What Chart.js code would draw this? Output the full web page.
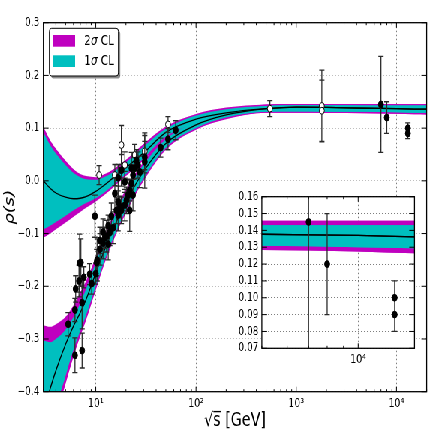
<!DOCTYPE html>
<html>
<head>
<meta charset="utf-8">
<script src="https://cdn.jsdelivr.net/npm/chart.js@4.4.0/dist/chart.umd.min.js"></script>
<style>
html, body {margin: 0; padding: 0; background: #fff; overflow: hidden}
/* the reference figure was squeezed horizontally, so draw wide and squeeze */
#wrap {position: relative; width: 581px; height: 436px; transform: scale(0.7504, 1); transform-origin: 0 0}
#main {position: absolute; left: 0; top: 0}
#inset {position: absolute; left: 300px; top: 185px}
</style>
</head>
<body>
<div id="wrap">
  <canvas id="main" width="581" height="436"></canvas>
  <canvas id="inset" width="266" height="185"></canvas>
</div>
<script>
const bandX = [3, 3.5, 4, 5, 6, 7, 8, 10, 12, 15, 20, 30, 50, 100, 200, 500, 1000, 2000, 5000, 10000, 15000, 20000]

// upper fit (through open points)
const a2Hi = [0.1025, 0.077, 0.061, 0.038, 0.022, 0.013, 0.009, 0.007, 0.012, 0.022, 0.04, 0.07, 0.103, 0.127, 0.139, 0.145, 0.146, 0.146, 0.1457, 0.1457, 0.1457, 0.1457]
const a1Hi = [0.092, 0.068, 0.052, 0.03, 0.015, 0.007, 0.003, 0.002, 0.007, 0.017, 0.035, 0.065, 0.099, 0.124, 0.136, 0.142, 0.1435, 0.1435, 0.1431, 0.1431, 0.1431, 0.1431]
const aMid = [0.0, -0.014, -0.023, -0.031, -0.034, -0.033, -0.03, -0.02, -0.009, 0.006, 0.025, 0.053, 0.092, 0.117, 0.129, 0.137, 0.14, 0.1395, 0.1377, 0.137, 0.1362, 0.136]
const a1Lo = [-0.092, -0.085, -0.078, -0.066, -0.056, -0.048, -0.042, -0.033, -0.023, -0.008, 0.013, 0.043, 0.084, 0.109, 0.122, 0.131, 0.1315, 0.131, 0.1309, 0.13, 0.1294, 0.129]
const a2Lo = [-0.108, -0.1, -0.092, -0.079, -0.068, -0.059, -0.051, -0.039, -0.028, -0.012, 0.009, 0.039, 0.08, 0.106, 0.119, 0.129, 0.129, 0.1288, 0.1284, 0.1275, 0.1264, 0.126]

// lower fit (through filled points)
const b2Hi = [-0.274, -0.277, -0.272, -0.258, -0.236, -0.212, -0.19, -0.145, -0.108, -0.064, -0.016, 0.036, 0.083, 0.115, 0.133, 0.145, 0.146, 0.146, 0.1457, 0.1457, 0.1457, 0.1457]
const b1Hi = [-0.303, -0.306, -0.3, -0.282, -0.258, -0.232, -0.205, -0.155, -0.116, -0.072, -0.023, 0.031, 0.079, 0.112, 0.13, 0.142, 0.1435, 0.1435, 0.1431, 0.1431, 0.1431, 0.1431]
const bMid = [-0.44, -0.395, -0.36, -0.31, -0.275, -0.25, -0.225, -0.175, -0.135, -0.09, -0.04, 0.018, 0.071, 0.106, 0.125, 0.137, 0.14, 0.1395, 0.1377, 0.137, 0.1362, 0.136]
const b1Lo = [-0.65, -0.53, -0.44, -0.37, -0.32, -0.285, -0.255, -0.2, -0.155, -0.108, -0.056, 0.005, 0.063, 0.1, 0.12, 0.131, 0.1315, 0.131, 0.1309, 0.13, 0.1294, 0.129]
const b2Lo = [-0.7, -0.57, -0.46, -0.385, -0.333, -0.295, -0.264, -0.207, -0.161, -0.113, -0.061, 0.0, 0.059, 0.097, 0.117, 0.129, 0.129, 0.1288, 0.1284, 0.1275, 0.1264, 0.126]

// open markers
const openX = [10.8, 15.5, 18.0, 19.5, 24.5, 30.8, 52.6, 546, 1800, 1800]
const openRho = [0.011, 0.011, 0.068, 0.03, 0.049, 0.056, 0.107, 0.137, 0.142, 0.133]
const openErr = [0.018, 0.02, 0.037, 0.025, 0.02, 0.035, 0.015, 0.015, 0.068, 0.058]

// filled markers
const fullX = [5.3, 6.2, 6.2, 6.3, 6.8, 6.9, 7.3, 7.3, 7.1, 7.6, 8.7, 9.1, 9.8, 10.0, 10.2, 10.3,
  11.0, 11.0, 11.8, 11.8, 12.3, 12.8, 13.3, 13.3, 13.8, 14.3, 14.9, 15.5, 16.1, 16.7, 16.7, 16.7,
  17.4, 18.0, 18.0, 19.5, 19.5, 20.2, 21.0, 21.8, 21.8, 22.7, 22.7, 23.5, 23.5, 24.5, 25.4, 26.4,
  27.5, 30.8, 30.8, 44.4, 52.6, 62.7, 7000, 8000, 13000, 13000]
const fullRho = [-0.272, -0.331, -0.245, -0.205, -0.19, -0.156, -0.322, -0.231, -0.155, -0.183, -0.177, -0.195, -0.067, -0.176, -0.155, -0.15,
  -0.13, -0.113, -0.118, -0.097, -0.108, -0.105, -0.12, -0.085, -0.098, -0.067, -0.089, -0.024, -0.056, 0.006, -0.04, -0.065,
  -0.049, 0.02, -0.056, -0.002, -0.046, -0.037, -0.027, -0.018, -0.056, -0.005, 0.024, 0.011, -0.027, 0.024, 0.039, 0.03,
  0.017, 0.036, 0.045, 0.063, 0.079, 0.096, 0.145, 0.12, 0.10, 0.09]
const fullErr = [0.022, 0.033, 0.022, 0.025, 0.03, 0.055, 0.033, 0.05, 0.045, 0.02, 0.02, 0.02, 0.04, 0.02, 0.025, 0.04,
  0.03, 0.025, 0.03, 0.025, 0.02, 0.03, 0.03, 0.02, 0.025, 0.025, 0.03, 0.03, 0.025, 0.025, 0.03, 0.03,
  0.02, 0.03, 0.025, 0.02, 0.03, 0.025, 0.03, 0.02, 0.04, 0.025, 0.03, 0.02, 0.03, 0.02, 0.02, 0.025,
  0.03, 0.05, 0.03, 0.018, 0.02, 0.018, 0.091, 0.03, 0.01, 0.01]

const yTicksMain = [-0.4, 0.3, 0.1]
const yTicksInset = [0.07, 0.16, 0.01]

const MAGENTA = '#bf00bf'
const CYAN = '#00bfbf'
const GRID = 'rgba(0,0,0,0.5)'
const FONT = "'DejaVu Sans', sans-serif"
const SUP = {0: '⁰', 1: '¹', 2: '²', 3: '³', 4: '⁴', 5: '⁵'}

Chart.defaults.font.family = FONT
Chart.defaults.color = '#000'
Chart.defaults.animation = false

const isDecade = v => Math.abs(Math.log10(v) - Math.round(Math.log10(v))) < 1e-9
const decadeLabel = v => isDecade(v) ? '10' + SUP[Math.round(Math.log10(v))] : ''
const fmt = (v, d) => (Math.abs(v) < 1e-9 ? 0 : v).toFixed(d).replace('-', '−')

function logTicks(min, max) {
    const t = []
    for (let e = Math.floor(Math.log10(min)); e <= Math.ceil(Math.log10(max)); e++) {
        for (let m = 1; m < 10; m++) {
            const v = m * Math.pow(10, e)
            if (v >= min && v <= max) t.push({value: v})
        }
    }
    return t
}

const band = vals => bandX.map((x, i) => ({x, y: vals[i]}))
const pts = (xs, ys) => xs.map((x, i) => ({x, y: ys[i]}))

function bandPair(label, hi, lo, color, order) {
    return [
        {label, data: band(hi), fill: '+1', backgroundColor: color, borderWidth: 0, pointRadius: 0, order, cubicInterpolationMode: 'monotone'},
        {data: band(lo), fill: false, borderWidth: 0, pointRadius: 0, order, cubicInterpolationMode: 'monotone'}
    ]
}

function makeDatasets() {
    return [
        ...bandPair('2σ CL', a2Hi, a2Lo, MAGENTA, 10),
        ...bandPair('', b2Hi, b2Lo, MAGENTA, 10),
        ...bandPair('1σ CL', a1Hi, a1Lo, CYAN, 8),
        ...bandPair('', b1Hi, b1Lo, CYAN, 8),
        {data: band(aMid), borderColor: '#000', borderWidth: 1.3, pointRadius: 0, fill: false, order: 6, cubicInterpolationMode: 'monotone'},
        {data: band(bMid), borderColor: '#000', borderWidth: 1.3, pointRadius: 0, fill: false, order: 6, cubicInterpolationMode: 'monotone'},
        {data: pts(openX, openRho), errors: openErr, showLine: false, pointRadius: 3.4, pointBackgroundColor: '#fff',
            pointBorderColor: '#000', pointBorderWidth: 1, order: 4},
        {data: pts(fullX, fullRho), errors: fullErr, showLine: false, pointRadius: 3.4, pointBackgroundColor: '#000',
            pointBorderColor: '#000', pointBorderWidth: 1, order: 2}
    ]
}

// vertical error bars with caps, drawn right before each marker set
const errorBars = {
    id: 'errorBars',
    beforeDatasetDraw(chart, args) {
        const ds = chart.data.datasets[args.index]
        if (!ds.errors) return
        const {ctx, chartArea: a, scales: {x, y}} = chart
        ctx.save()
        ctx.beginPath()
        ctx.rect(a.left, a.top, a.width, a.height)
        ctx.clip()
        ctx.strokeStyle = '#2a2a2a'
        ctx.lineWidth = 1.3
        ctx.beginPath()
        ds.data.forEach((p, i) => {
            const px = x.getPixelForValue(p.x)
            const top = y.getPixelForValue(p.y + ds.errors[i])
            const bot = y.getPixelForValue(p.y - ds.errors[i])
            ctx.moveTo(px, top); ctx.lineTo(px, bot)
            ctx.moveTo(px - 3.5, top); ctx.lineTo(px + 3.5, top)
            ctx.moveTo(px - 3.5, bot); ctx.lineTo(px + 3.5, bot)
        })
        ctx.stroke()
        ctx.restore()
    }
}

// box around the axes with inward ticks on all four sides
const frame = {
    id: 'frame',
    beforeDraw(chart, args, opts) {
        if (!opts.whiteArea) return
        const {ctx, chartArea: a} = chart
        ctx.save()
        ctx.fillStyle = '#fff'
        ctx.fillRect(a.left, a.top, a.width, a.height)
        ctx.restore()
    },
    afterDraw(chart) {
        const {ctx, chartArea: a, scales: {x, y}} = chart
        ctx.save()
        ctx.strokeStyle = '#000'
        ctx.lineWidth = 1
        ctx.beginPath()
        x.ticks.forEach(t => {
            const px = x.getPixelForValue(t.value)
            const len = isDecade(t.value) ? 5 : 2.5
            ctx.moveTo(px, a.bottom); ctx.lineTo(px, a.bottom - len)
            ctx.moveTo(px, a.top); ctx.lineTo(px, a.top + len)
        })
        y.ticks.forEach(t => {
            const py = y.getPixelForValue(t.value)
            ctx.moveTo(a.left, py); ctx.lineTo(a.left + 7, py)
            ctx.moveTo(a.right, py); ctx.lineTo(a.right - 7, py)
        })
        ctx.stroke()
        ctx.lineWidth = 1.3
        ctx.strokeRect(a.left, a.top, a.width, a.height)
        ctx.restore()
    }
}

function roundRect(ctx, x, y, w, h, r) {
    ctx.beginPath()
    ctx.moveTo(x + r, y)
    ctx.arcTo(x + w, y, x + w, y + h, r)
    ctx.arcTo(x + w, y + h, x, y + h, r)
    ctx.arcTo(x, y + h, x, y, r)
    ctx.arcTo(x, y, x + w, y, r)
    ctx.closePath()
}

// matplotlib-like legend with shadow, inside the upper left corner
const legendBox = {
    id: 'legendBox',
    afterDraw(chart) {
        const {ctx, chartArea: a} = chart
        const items = chart.data.datasets.filter(d => d.label)
        const x0 = a.left + 8, y0 = a.top + 5.6, w = 92, h = 47.7
        ctx.save()
        ctx.fillStyle = 'rgba(0,0,0,0.45)'
        roundRect(ctx, x0 + 2.5, y0 + 2.5, w, h, 3)
        ctx.fill()
        ctx.fillStyle = '#fff'
        ctx.strokeStyle = '#000'
        ctx.lineWidth = 1
        roundRect(ctx, x0, y0, w, h, 3)
        ctx.fill()
        ctx.stroke()
        ctx.textBaseline = 'middle'
        items.forEach((d, i) => {
            const py = y0 + 12.7 + i * 20.3
            ctx.fillStyle = d.backgroundColor
            ctx.fillRect(x0 + 4.6, py - 6, 29.7, 11.7)
            // sigma in italic, the rest upright
            const [pre, post] = d.label.split('σ')
            let tx = x0 + 46.3
            ctx.fillStyle = '#000'
            ctx.font = '14px ' + FONT
            ctx.fillText(pre, tx, py); tx += ctx.measureText(pre).width
            ctx.font = 'italic 14px ' + FONT
            ctx.fillText('σ', tx, py); tx += ctx.measureText('σ').width
            ctx.font = '14px ' + FONT
            ctx.fillText(post, tx, py)
        })
        ctx.restore()
    }
}

function logAxis(min, max, height, pad, title) {
    return {
        type: 'logarithmic', min, max,
        afterBuildTicks: s => { s.ticks = logTicks(s.min, s.max) },
        afterFit: s => { s.height = height },
        grid: {drawTicks: false, lineWidth: 1, color: c => c.tick && isDecade(c.tick.value) ? GRID : 'rgba(0,0,0,0)'},
        border: {display: false, dash: [1.5, 2.5]},
        ticks: {autoSkip: false, maxRotation: 0, padding: pad, font: {size: 12.5}, callback: v => decadeLabel(v)},
        title
    }
}

function linAxis(range, width, pad, digits, title) {
    return {
        min: range[0], max: range[1],
        afterFit: s => { s.width = width },
        grid: {drawTicks: false, lineWidth: 1, color: GRID},
        border: {display: false, dash: [1.5, 2.5]},
        ticks: {stepSize: range[2], autoSkip: false, padding: pad, font: {size: 12}, callback: v => fmt(v, digits)},
        title
    }
}

new Chart(document.getElementById('main'), {
    type: 'line',
    data: {datasets: makeDatasets()},
    options: {
        responsive: false,
        layout: {padding: {top: 22.7, right: 12.4, bottom: 0, left: 0}},
        plugins: {legend: {display: false}, tooltip: {enabled: false}, frame: {whiteArea: false}},
        scales: {
            x: logAxis(3, 20000, 44.3, 5, {display: true, text: '√s̅ [GeV]', font: {size: 19}, padding: {top: 0, bottom: 3.8}}),
            y: linAxis(yTicksMain, 57.7, 5.3, 1, {display: true, text: 'ρ(s)', font: {size: 18, style: 'italic'}, padding: {top: 2.5, bottom: 0}})
        }
    },
    plugins: [errorBars, frame, legendBox]
})

new Chart(document.getElementById('inset'), {
    type: 'line',
    data: {datasets: makeDatasets().map(d => ({...d, label: ''}))},
    options: {
        responsive: false,
        layout: {padding: {top: 10.7, right: 13.6, bottom: 0, left: 0}},
        plugins: {legend: {display: false}, tooltip: {enabled: false}, frame: {whiteArea: true}},
        scales: {
            x: logAxis(5000, 15000, 21.7, 3.5, {display: false}),
            y: linAxis(yTicksInset, 48.9, 4.5, 2, {display: false})
        }
    },
    plugins: [errorBars, frame]
})
</script>
</body>
</html>
